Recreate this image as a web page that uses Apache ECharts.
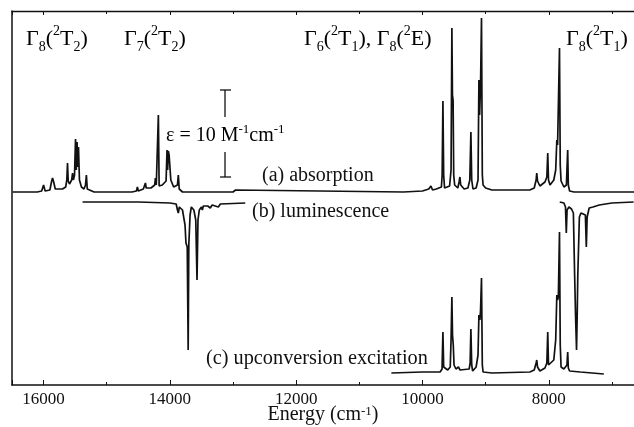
<!DOCTYPE html>
<html>
<head>
<meta charset="utf-8">
<script src="https://cdn.jsdelivr.net/npm/echarts@6/dist/echarts.min.js"></script>
<style>
html, body { margin: 0; padding: 0; background: #fff; }
#chart { width: 634px; height: 427px; }
</style>
</head>
<body>
<div id="chart"></div>
<script>
// energy (cm-1), intensity on one shared offset scale (arbitrary units)
var absorption = [
  [16490,193],[16100,193],[16030,194],[16000,200],[15975,194],[15900,195],[15875,203],[15858,207],
  [15840,203],[15815,196],[15700,196],[15650,198],[15632,205],[15621,222],[15610,204],[15590,201],
  [15555,205],[15541,212],[15528,205],[15510,210],[15494,246],[15482,215],[15470,243],[15460,218],
  [15447,238],[15432,205],[15400,198],[15360,196],[15336,200],[15322,210],[15308,196],[15290,194],
  [15200,193],[14600,193],[14530,194],[14514,198],[14500,194],[14420,196],[14395,198],[14387,202],
  [14375,197],[14300,197],[14240,200],[14229,207],[14215,200],[14195,199],[14182,270],[14170,199],
  [14120,200],[14060,204],[14045,235],[14035,215],[14025,234],[14012,230],[13998,228],[13985,205],
  [13940,198],[13880,200],[13866,210],[13852,196],[13800,193],[13000,193],[12960,195],[12949,196],
  [12935,194],[10300,193],[10000,194],[9900,196],[9866,199],[9840,195],[9780,196],[9700,198],
  [9688,210],[9676,284],[9664,210],[9650,197],[9570,199],[9547,215],[9534,357],[9525,290],[9515,285],
  [9505,210],[9490,200],[9440,197],[9420,203],[9407,208],[9394,200],[9340,196],[9280,197],[9250,205],
  [9233,253],[9220,205],[9200,196],[9150,197],[9120,205],[9106,305],[9095,270],[9080,300],[9065,367],
  [9052,210],[9040,200],[9000,197],[8900,195],[8300,195],[8230,197],[8200,205],[8190,212],[8178,204],
  [8140,199],[8060,203],[8030,208],[8016,232],[8004,205],[7980,200],[7920,205],[7890,215],[7872,245],
  [7860,240],[7848,242],[7830,337],[7818,220],[7805,204],[7760,198],[7720,200],[7712,215],[7700,235],
  [7690,200],[7670,194],[7600,193],[6650,193]
];
var luminescenceHigh = [
  [15383,183],[14500,183],[14000,182],[13900,181],[13880,175],[13866,172],[13850,178],[13834,178],
  [13800,175],[13787,170],[13760,160],[13745,142],[13725,138],[13710,35],[13700,140],[13680,170],
  [13660,178],[13620,175],[13590,165],[13570,105],[13555,165],[13534,175],[13500,178],[13486,175],
  [13470,179],[13439,177],[13400,179],[13360,177],[13330,180],[13233,178],[13200,181],[12806,182]
];
var luminescenceLow = [
  [7826,183],[7760,182],[7735,178],[7722,152],[7710,175],[7680,178],[7640,176],[7610,172],[7590,110],
  [7575,68],[7560,35],[7550,68],[7540,110],[7515,168],[7490,172],[7420,170],[7405,138],[7392,168],
  [7360,177],[7300,178],[7200,180],[7000,182],[6656,183]
];
var upconversion = [
  [10492,12],[10000,13],[9720,13],[9690,16],[9676,53],[9664,18],[9650,16],[9600,15],[9560,18],
  [9547,45],[9534,88],[9524,50],[9512,40],[9500,20],[9470,16],[9430,18],[9420,20],[9405,15],
  [9380,13],[9260,16],[9245,22],[9233,56],[9220,20],[9205,14],[9150,18],[9120,30],[9106,70],
  [9090,65],[9080,75],[9065,107],[9052,20],[9040,13],[8900,12],[8300,13],[8230,15],[8200,22],
  [8190,25],[8178,18],[8140,14],[8060,17],[8030,22],[8016,53],[8004,20],[7985,18],[7920,25],
  [7890,45],[7872,90],[7860,85],[7848,88],[7830,153],[7818,40],[7805,18],[7760,16],[7712,20],
  [7700,33],[7690,17],[7670,14],[7500,13],[7128,11]
];
var energyTicks = [16000, 14000, 12000, 10000, 8000];

var serif = "'Liberation Serif', 'Times New Roman', serif";
var ink = '#111';

var richStyle = {
  m: { fontSize: 22, fontFamily: serif, color: ink, lineHeight: 30, verticalAlign: 'middle' },
  sub: { fontSize: 14, fontFamily: serif, color: ink, lineHeight: 14, verticalAlign: 'bottom' },
  sup: { fontSize: 14, fontFamily: serif, color: ink, lineHeight: 14, verticalAlign: 'top' }
};
var smallRich = {
  m: { fontSize: 20, fontFamily: serif, color: ink, lineHeight: 26, verticalAlign: 'middle' },
  sup: { fontSize: 13, fontFamily: serif, color: ink, lineHeight: 13, verticalAlign: 'top' }
};

function label(x, y, text, rich) {
  return { type: 'text', left: x, top: y, style: { text: text, rich: rich } };
}
function plain(x, y, text, size) {
  return { type: 'text', left: x, top: y,
    style: { text: text, font: size + 'px ' + serif, fill: ink } };
}
function seg(x1, y1, x2, y2) {
  return { type: 'line', shape: { x1: x1, y1: y1, x2: x2, y2: y2 },
    style: { stroke: ink, lineWidth: 1.3 } };
}

function spectrum(name, data) {
  return {
    name: name, type: 'line', data: data, symbol: 'none', silent: true,
    lineStyle: { color: ink, width: 1.7 }
  };
}

var myChart = echarts.init(document.getElementById('chart'));
var option = {
  animation: false,
  grid: { left: 12, right: 0, top: 11, bottom: 42, outerBoundsMode: 'none' },
  xAxis: [
    {
      type: 'value', min: 6650, max: 16500, inverse: true, splitNumber: 5,
      name: 'Energy (cm{sup|-1})', nameLocation: 'middle', nameGap: 20, nameMoveOverlap: false,
      nameTextStyle: {
        fontFamily: serif, fontSize: 20, color: ink,
        rich: { sup: { fontSize: 13, fontFamily: serif, color: ink, verticalAlign: 'top', lineHeight: 12 } }
      },
      axisLine: { lineStyle: { color: ink, width: 1.5 } },
      axisTick: { inside: true, length: 5, lineStyle: { color: ink } },
      minorTick: { show: true, splitNumber: 2, length: 3, lineStyle: { color: ink } },
      axisLabel: {
        showMinLabel: false, showMaxLabel: false, margin: 6,
        fontFamily: serif, fontSize: 17, color: ink,
        formatter: function (v) { return energyTicks.indexOf(v) >= 0 ? String(v) : ''; }
      },
      splitLine: { show: false }
    },
    {
      type: 'value', min: 6650, max: 16500, inverse: true, splitNumber: 5, position: 'top',
      axisLine: { lineStyle: { color: ink, width: 1.3 } },
      axisTick: { inside: true, length: 4, lineStyle: { color: ink } },
      minorTick: { show: true, splitNumber: 2, length: 3, lineStyle: { color: ink } },
      axisLabel: { show: false },
      splitLine: { show: false }
    }
  ],
  yAxis: {
    type: 'value', min: 0, max: 374,
    axisLine: { show: true, lineStyle: { color: ink, width: 1.5 } },
    axisTick: { show: false }, axisLabel: { show: false }, splitLine: { show: false }
  },
  series: [
    spectrum('absorption', absorption),
    spectrum('luminescence', luminescenceHigh),
    spectrum('luminescence', luminescenceLow),
    spectrum('upconversion excitation', upconversion)
  ],
  graphic: [
    label(26, 24, '{m|Γ}{sub|8}{m|(}{sup|2}{m|T}{sub|2}{m|)}', richStyle),
    label(124, 24, '{m|Γ}{sub|7}{m|(}{sup|2}{m|T}{sub|2}{m|)}', richStyle),
    label(304, 24, '{m|Γ}{sub|6}{m|(}{sup|2}{m|T}{sub|1}{m|), Γ}{sub|8}{m|(}{sup|2}{m|E)}', richStyle),
    label(566, 24, '{m|Γ}{sub|8}{m|(}{sup|2}{m|T}{sub|1}{m|)}', richStyle),
    label(166, 123, '{m|ε = 10 M}{sup|-1}{m|cm}{sup|-1}', smallRich),
    plain(262, 166, '(a) absorption', 20),
    plain(252, 202, '(b) luminescence', 20),
    plain(206, 349, '(c) upconversion excitation', 20.3),
    seg(225, 90, 225, 117), seg(225, 152, 225, 177),
    seg(220, 90, 231, 90), seg(220, 177, 231, 177)
  ]
};
myChart.setOption(option);
</script>
</body>
</html>
